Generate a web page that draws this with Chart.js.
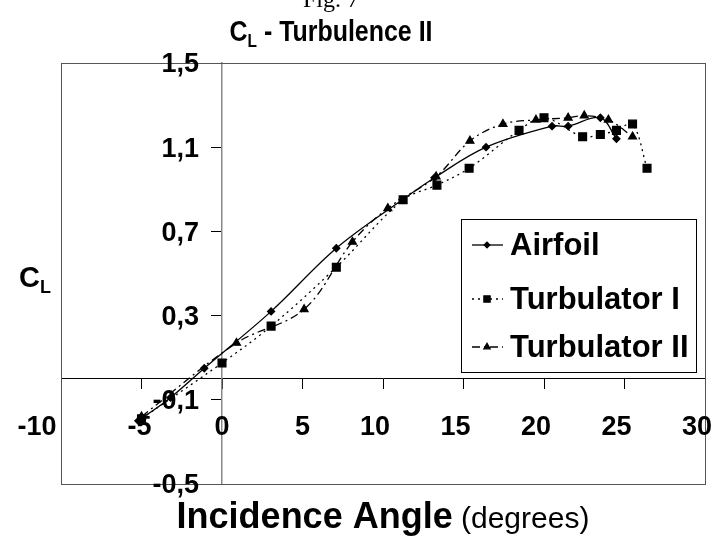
<!DOCTYPE html>
<html>
<head>
<meta charset="utf-8">
<script src="https://cdn.jsdelivr.net/npm/chart.js@4.4.1/dist/chart.umd.min.js"></script>
<style>
  html, body { margin: 0; padding: 0; background: #fff; }
  #wrap { width: 726px; height: 541px; }
</style>
</head>
<body>
<div id="wrap"><canvas id="chart" width="726" height="541"></canvas></div>
<script>
// -------------------------
// Data
// -------------------------
const airfoilX = [-5.2, -3.2, -1.1, 3.05, 7.1, 11.2, 13.2, 16.4, 20.5, 21.5, 23.5, 24.5];
const airfoilY = [-0.20, -0.09, 0.05, 0.32, 0.62, 0.85, 0.955, 1.10, 1.20, 1.20, 1.24, 1.14];

const turb1X = [-5.0, 0.0, 3.05, 7.1, 11.25, 13.35, 15.35, 18.45, 20.0, 22.4, 23.5, 24.5, 25.5, 26.4];
const turb1Y = [-0.19, 0.075, 0.25, 0.53, 0.85, 0.92, 1.00, 1.18, 1.24, 1.15, 1.16, 1.18, 1.21, 1.00];

const turb2X = [-5.0, 0.9, 5.1, 8.1, 10.3, 13.3, 15.4, 17.45, 19.5, 21.5, 22.5, 24.0, 25.5];
const turb2Y = [-0.18, 0.17, 0.33, 0.65, 0.81, 0.96, 1.13, 1.21, 1.23, 1.24, 1.25, 1.23, 1.15];

const xTicks = [-10, -5, 0, 5, 10, 15, 20, 25, 30];
const yTicks = [-0.5, -0.1, 0.3, 0.7, 1.1, 1.5];

const FONT = "'Liberation Sans', Arial, Helvetica, sans-serif";

function pts(xs, ys) {
  return xs.map((x, i) => ({ x: x, y: ys[i] }));
}

function yLabel(v) {
  return v.toFixed(1).replace(".", ",");
}

// the original (spreadsheet) labels sit a bit left of their ticks when wider
function xLabelShift(v) {
  if (v <= -10) return -24;
  if (v >= 10) return -8;
  if (v < 0) return -2;
  return 0;
}

// axes sit inside the plot: keep them from eating layout space
function noPad(scale) {
  scale.paddingLeft = 0;
  scale.paddingRight = 0;
  scale.paddingTop = 0;
  scale.paddingBottom = 0;
}

// -------------------------
// Plugin: frame, titles, tick labels, legend
// -------------------------
const decor = {
  id: "decor",
  beforeDraw(chart) {
    const { ctx } = chart;
    ctx.save();
    ctx.fillStyle = "#fff";
    ctx.fillRect(0, 0, chart.width, chart.height);
    ctx.restore();
  },
  afterDraw(chart) {
    const { ctx, chartArea: a } = chart;
    const xs = chart.scales.x, ys = chart.scales.y;
    ctx.save();

    // plot frame
    ctx.strokeStyle = "#555";
    ctx.lineWidth = 1;
    ctx.strokeRect(Math.round(a.left) + 0.5, Math.round(a.top) + 0.5,
      Math.round(a.right - a.left), Math.round(a.bottom - a.top));

    const axisX = xs.getPixelForValue(0);
    const axisY = ys.getPixelForValue(0);
    ctx.fillStyle = "#000";
    ctx.font = "bold 27px " + FONT;

    // y tick labels, left of the axis at x = 0
    ctx.textAlign = "right";
    ctx.textBaseline = "middle";
    ys.ticks.forEach(t => {
      ctx.fillText(yLabel(t.value), axisX - 23, ys.getPixelForValue(t.value) + 2);
    });

    // x tick labels, below the axis at y = 0
    ctx.textAlign = "center";
    xs.ticks.forEach(t => {
      ctx.fillText(String(t.value), xs.getPixelForValue(t.value) + xLabelShift(t.value), axisY + 49);
    });

    ctx.textBaseline = "alphabetic";

    // "Fig. 7" cut off at the top
    ctx.font = "24px 'Liberation Serif', 'Times New Roman', serif";
    ctx.textAlign = "center";
    ctx.fillText("Fig. 7", 331, 7);

    // chart title with subscript (narrow, tall letters)
    ctx.save();
    ctx.translate(331, 0);
    ctx.scale(0.86, 1);
    drawSub(ctx, "C", "L", " - Turbulence II", 0, 41, 29);
    ctx.restore();

    // y axis title
    drawSub(ctx, "C", "L", "", 35, 287, 29);

    // x axis title: bold + normal parts
    const p1 = "Incidence Angle";
    const p2 = " (degrees)";
    const f1 = "bold 36px " + FONT;
    const f2 = "30px " + FONT;
    ctx.font = f1;
    const w1 = ctx.measureText(p1).width;
    ctx.font = f2;
    const w2 = ctx.measureText(p2).width;
    const x0 = (a.left + a.right) / 2 - (w1 + w2) / 2;
    ctx.textAlign = "left";
    ctx.font = f1;
    ctx.fillText(p1, x0, 528);
    ctx.font = f2;
    ctx.fillText(p2, x0 + w1, 528);

    // legend
    const lx = 461, ly = 219, lw = 235, lh = 153;
    ctx.fillStyle = "#fff";
    ctx.fillRect(lx, ly, lw, lh);
    ctx.strokeStyle = "#000";
    ctx.lineWidth = 1;
    ctx.strokeRect(lx + 0.5, ly + 0.5, lw, lh);
    const rows = [245, 299, 347];
    chart.data.datasets.forEach((ds, i) => {
      const y = rows[i];
      ctx.save();
      ctx.strokeStyle = "#000";
      ctx.fillStyle = "#000";
      ctx.lineWidth = ds.borderWidth;
      ctx.setLineDash(ds.borderDash || []);
      ctx.beginPath();
      ctx.moveTo(472, y);
      ctx.lineTo(503, y);
      ctx.stroke();
      ctx.setLineDash([]);
      Chart.helpers.drawPoint(ctx, {
        pointStyle: ds.pointStyle, radius: ds.pointRadius * 0.8, borderWidth: 1, rotation: 0
      }, 487, y);
      ctx.restore();
      ctx.fillStyle = "#000";
      ctx.font = "bold 31px " + FONT;
      ctx.textAlign = "left";
      ctx.textBaseline = "middle";
      ctx.fillText(ds.label, 510, y + 1);
    });

    ctx.restore();
  }
};

function drawSub(ctx, main, sub, rest, cx, baseY, size) {
  ctx.save();
  ctx.fillStyle = "#000";
  ctx.textBaseline = "alphabetic";
  ctx.textAlign = "left";
  const fMain = "bold " + size + "px " + FONT;
  const fSub = "bold " + Math.round(size * 0.62) + "px " + FONT;
  ctx.font = fMain;
  const wm = ctx.measureText(main).width;
  const wr = ctx.measureText(rest).width;
  ctx.font = fSub;
  const ws = ctx.measureText(sub).width;
  const x = cx - (wm + ws + wr) / 2;
  ctx.font = fMain;
  ctx.fillText(main, x, baseY);
  ctx.font = fSub;
  ctx.fillText(sub, x + wm, baseY + size * 0.22);
  ctx.font = fMain;
  ctx.fillText(rest, x + wm + ws, baseY);
  ctx.restore();
}

// -------------------------
// Chart
// -------------------------
const common = {
  showLine: true,
  borderColor: "#000",
  backgroundColor: "#000",
  pointBackgroundColor: "#000",
  pointBorderColor: "#000",
  borderWidth: 1.3,
  tension: 0.35,
  clip: false
};

new Chart(document.getElementById("chart"), {
  type: "scatter",
  data: {
    datasets: [
      Object.assign({}, common, {
        label: "Airfoil",
        data: pts(airfoilX, airfoilY),
        pointStyle: "rectRot",
        pointRadius: 3.5
      }),
      Object.assign({}, common, {
        label: "Turbulator I",
        data: pts(turb1X, turb1Y),
        pointStyle: "rect",
        pointRadius: 5.5,
        borderDash: [2, 4]
      }),
      Object.assign({}, common, {
        label: "Turbulator II",
        data: pts(turb2X, turb2Y),
        pointStyle: "triangle",
        pointRadius: 4.5,
        borderDash: [8, 4, 2, 4]
      })
    ]
  },
  options: {
    responsive: false,
    animation: false,
    devicePixelRatio: 1,
    layout: { padding: { left: 61, right: 21, top: 63, bottom: 57 } },
    plugins: {
      legend: { display: false },
      title: { display: false },
      tooltip: { enabled: false }
    },
    scales: {
      x: {
        type: "linear",
        min: -10, max: 30,
        position: { y: 0 },
        afterBuildTicks: (s) => { s.ticks = xTicks.map(v => ({ value: v })); },
        afterFit: noPad,
        ticks: { display: false },
        grid: { drawOnChartArea: false, tickLength: 10, color: "#000", tickWidth: 1 },
        border: { display: true, color: "#000", width: 1 }
      },
      y: {
        type: "linear",
        min: -0.5, max: 1.5,
        position: { x: 0 },
        afterBuildTicks: (s) => { s.ticks = yTicks.map(v => ({ value: v })); },
        afterFit: noPad,
        ticks: { display: false },
        grid: { drawOnChartArea: false, tickLength: 10, color: "#000", tickWidth: 1 },
        border: { display: true, color: "#888", width: 1.5 }
      }
    }
  },
  plugins: [decor]
});
</script>
</body>
</html>
